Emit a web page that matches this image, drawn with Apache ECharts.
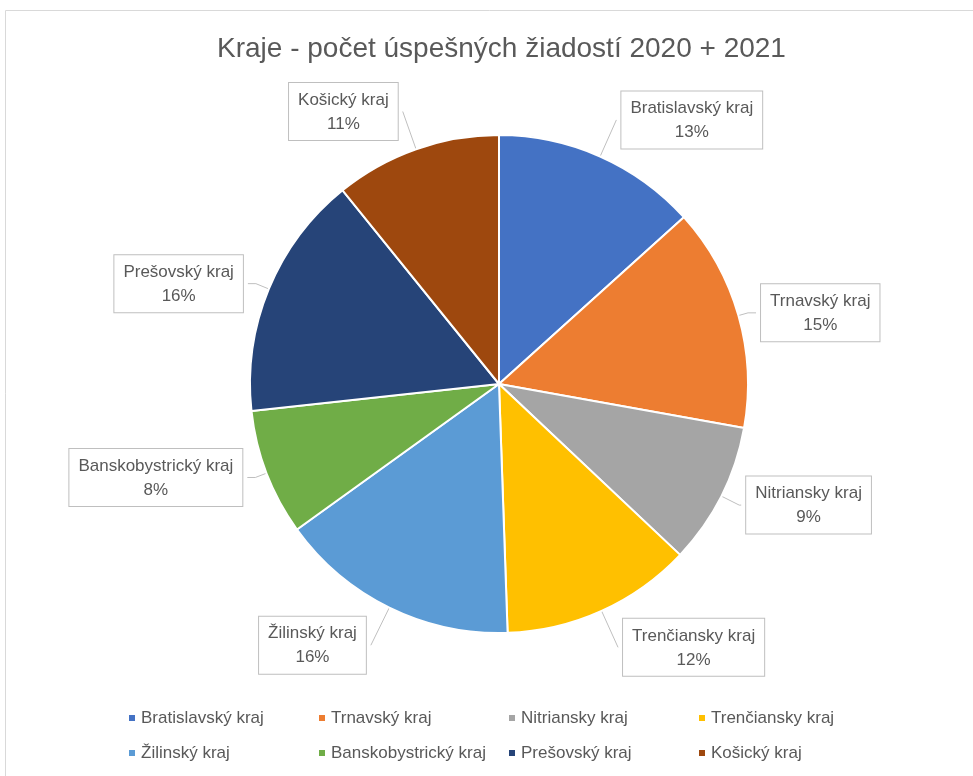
<!DOCTYPE html>
<html>
<head>
<meta charset="utf-8">
<script src="https://cdn.jsdelivr.net/npm/echarts@6/dist/echarts.min.js"></script>
<style>
  html, body { margin: 0; padding: 0; background: #fff; }
  #chart { width: 973px; height: 776px; }
</style>
</head>
<body>
<div id="chart"></div>
<script>
// kraje a počty žiadostí (odhad z obrázka)
const regions = ['Bratislavský kraj', 'Trnavský kraj', 'Nitriansky kraj', 'Trenčiansky kraj',
                 'Žilinský kraj', 'Banskobystrický kraj', 'Prešovský kraj', 'Košický kraj'];
const counts = [133, 145, 92, 124, 156, 82, 159, 108];
const colors = ['#4472C4', '#ED7D31', '#A5A5A5', '#FFC000', '#5B9BD5', '#70AD47', '#264478', '#9E480E'];

const font = 'Liberation Sans, sans-serif';
const chart = echarts.init(document.getElementById('chart'));

// dĺžky spojníc popiskov (ako v Exceli - niektoré sú ďalej od koláča)
const lineLen = [40, 10, 20, 40, 42, 12, 14, 40];
const lineLen2 = [0, 8, 2, 0, 0, 8, 8, 0];

// legenda v 4 stĺpcoch po 2 riadkoch
const legends = [0, 1, 2, 3].map(col => ({
    orient: 'vertical',
    left: 122 + col * 190,
    top: 701,
    itemWidth: 8,
    itemHeight: 8,
    itemGap: 11,
    icon: 'rect',
    textStyle: { fontFamily: font, fontSize: 17, color: '#595959', lineHeight: 24 },
    data: [regions[col], regions[col + 4]]
}));

chart.setOption({
    color: colors,
    animation: false,
    title: {
        text: 'Kraje - počet úspešných žiadostí 2020 + 2021',
        left: 212,
        top: 30,
        textStyle: { fontFamily: font, fontSize: 28, fontWeight: 'normal', color: '#595959' }
    },
    graphic: [{
        type: 'rect',
        shape: { x: 5.5, y: 10.5, width: 1000, height: 800 },
        style: { fill: 'none', stroke: '#d9d9d9', lineWidth: 1 },
        silent: true
    }],
    legend: legends,
    series: [{
        type: 'pie',
        center: [499, 384],
        radius: 249,
        startAngle: 90,
        clockwise: true,
        percentPrecision: 0,
        itemStyle: { borderColor: '#fff', borderWidth: 2 },
        label: {
            position: 'outside',
            formatter: '{t|{b}}\n{t|{d}%}',
            backgroundColor: '#fff',
            borderColor: '#bfbfbf',
            borderWidth: 1,
            padding: [5, 9, 4, 9],
            rich: {
                t: { fontFamily: font, fontSize: 17, lineHeight: 24, color: '#595959', align: 'center' }
            }
        },
        labelLine: {
            show: true,
            lineStyle: { color: '#bfbfbf', width: 1 }
        },
        data: regions.map((name, i) => ({
            name: name,
            value: counts[i],
            labelLine: { length: lineLen[i], length2: lineLen2[i] }
        }))
    }]
});
</script>
</body>
</html>
